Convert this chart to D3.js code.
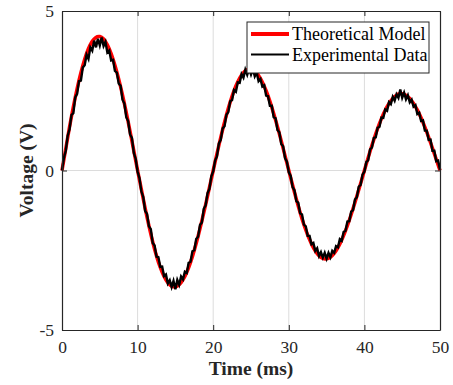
<!DOCTYPE html>
<html><head><meta charset="utf-8">
<script src="https://cdn.jsdelivr.net/npm/d3@7"></script>
<style>body{margin:0;background:#fff}svg{display:block}</style>
</head><body>
<script>
const xTicks = [0, 10, 20, 30, 40, 50];
const yTicks = [-5, 0, 5];
const seriesNames = ["Theoretical Model", "Experimental Data"];
// Theoretical model, one sample per ms (0..50 ms)
const modelTime = [0,1,2,3,4,5,6,7,8,9,10,11,12,13,14,15,16,17,18,19,20,21,22,23,24,25,26,27,28,29,30,31,32,33,34,35,36,37,38,39,40,41,42,43,44,45,46,47,48,49,50];
const modelVolt = [0,1.37,2.57,3.49,4.05,4.20,3.94,3.30,2.37,1.23,0,-1.19,-2.24,-3.04,-3.52,-3.65,-3.43,-2.88,-2.06,-1.07,0,1.04,1.95,2.65,3.07,3.18,2.98,2.50,1.79,0.93,0,-0.90,-1.70,-2.30,-2.67,-2.77,-2.60,-2.18,-1.56,-0.81,0,0.79,1.48,2.00,2.32,2.41,2.26,1.90,1.36,0.70,0];
// Experimental data, one sample per 0.25 ms
const expStep = 0.25;
const expVolt = [
0.00,0.39,0.62,1.09,1.29,1.74,1.80,2.29,2.40,2.80,2.82,3.23,3.30,3.63,3.50,3.86,3.76,4.07,3.86,4.13,3.92,4.17,3.90,4.03,3.70,3.76,3.45,3.47,3.12,3.07,2.73,2.66,2.22,2.10,1.67,1.55,1.13,1.02,0.55,0.36,
-0.04,-0.24,-0.66,-0.83,-1.27,-1.36,-1.75,-1.84,-2.27,-2.35,-2.70,-2.72,-3.02,-3.01,-3.31,-3.26,-3.54,-3.44,-3.65,-3.46,-3.72,-3.43,-3.58,-3.32,-3.41,-3.17,-3.21,-2.89,-2.86,-2.53,-2.50,-2.15,-2.08,-1.71,-1.63,-1.20,-1.09,-0.71,-0.58,-0.18,
-0.03,0.31,0.44,0.85,0.96,1.32,1.39,1.75,1.83,2.17,2.21,2.52,2.47,2.76,2.75,3.02,2.91,3.16,3.00,3.19,3.01,3.18,2.95,3.07,2.80,2.87,2.63,2.67,2.35,2.33,2.03,2.03,1.67,1.64,1.27,1.20,0.83,0.76,0.39,0.28,
-0.06,-0.17,-0.52,-0.62,-0.96,-1.01,-1.34,-1.38,-1.70,-1.75,-2.05,-2.05,-2.31,-2.27,-2.52,-2.44,-2.68,-2.56,-2.73,-2.58,-2.76,-2.58,-2.72,-2.52,-2.58,-2.37,-2.41,-2.15,-2.20,-1.93,-1.89,-1.60,-1.59,-1.29,-1.24,-0.91,-0.84,-0.51,-0.45,-0.13,
-0.04,0.26,0.32,0.66,0.72,1.02,1.04,1.34,1.37,1.66,1.65,1.91,1.87,2.14,2.08,2.31,2.19,2.39,2.28,2.54,2.28,2.44,2.23,2.36,2.14,2.22,2.00,2.05,1.77,1.81,1.55,1.57,1.25,1.25,0.96,0.97,0.62,0.62,0.29,0.31,
0.02];

const W = 453, H = 385;
const m = {left: 62, right: 13, top: 11, bottom: 55};
const svg = d3.select("body").append("svg").attr("width", W).attr("height", H);
const x = d3.scaleLinear().domain([0, 50]).range([m.left, W - m.right]);
const y = d3.scaleLinear().domain([-5, 5]).range([H - m.bottom, m.top]);
const font = "'Liberation Serif','Times New Roman',serif";

// grid
svg.append("g").selectAll("line").data(xTicks.slice(1, -1)).join("line")
  .attr("x1", d => x(d)).attr("x2", d => x(d)).attr("y1", y(5)).attr("y2", y(-5))
  .attr("stroke", "#dcdcdc").attr("stroke-width", 1);
svg.append("g").selectAll("line").data([0]).join("line")
  .attr("x1", x(0)).attr("x2", x(50)).attr("y1", d => y(d)).attr("y2", d => y(d))
  .attr("stroke", "#dcdcdc").attr("stroke-width", 1);

// data lines
const modelData = modelTime.map((t, i) => [t, modelVolt[i]]);
const expData = expVolt.map((v, i) => [i * expStep, v]);
svg.append("path").datum(modelData)
  .attr("d", d3.line().x(d => x(d[0])).y(d => y(d[1])).curve(d3.curveNatural))
  .attr("fill", "none").attr("stroke", "#ff0000").attr("stroke-width", 3.5);
svg.append("path").datum(expData)
  .attr("d", d3.line().x(d => x(d[0])).y(d => y(d[1])))
  .attr("fill", "none").attr("stroke", "#000").attr("stroke-width", 2.4)
  .attr("stroke-linejoin", "miter");

// axes (inward ticks, box)
const xb = svg.append("g").attr("transform", `translate(0,${y(-5)})`)
  .call(d3.axisBottom(x).tickValues(xTicks).tickSizeInner(-5).tickSizeOuter(0).tickPadding(11));
const xt = svg.append("g").attr("transform", `translate(0,${y(5)})`)
  .call(d3.axisTop(x).tickValues(xTicks).tickSizeInner(-5).tickSizeOuter(0).tickFormat(""));
const yl = svg.append("g").attr("transform", `translate(${x(0)},0)`)
  .call(d3.axisLeft(y).tickValues(yTicks).tickSizeInner(-5).tickSizeOuter(0).tickPadding(8).tickFormat(d3.format("d")));
const yr = svg.append("g").attr("transform", `translate(${x(50)},0)`)
  .call(d3.axisRight(y).tickValues(yTicks).tickSizeInner(-5).tickSizeOuter(0).tickFormat(""));
[xb, xt, yl, yr].forEach(g => {
  g.select(".domain").attr("stroke", "#262626").attr("stroke-width", 1.2);
  g.selectAll(".tick line").attr("stroke", "#262626");
  g.selectAll("text").attr("font-family", font).attr("font-size", 17.5).attr("fill", "#262626");
});
yl.selectAll("text").text(d => d < 0 ? "-" + Math.abs(d) : d);

// titles
svg.append("text").attr("x", x(25)).attr("y", 375).attr("text-anchor", "middle")
  .attr("font-family", font).attr("font-weight", "bold").attr("font-size", 19.5).attr("fill", "#262626")
  .text("Time (ms)");
svg.append("text").attr("transform", `translate(33,${y(0)}) rotate(-90)`).attr("text-anchor", "middle")
  .attr("font-family", font).attr("font-weight", "bold").attr("font-size", 19.5).attr("fill", "#262626")
  .text("Voltage (V)");

// legend
const lg = svg.append("g");
lg.append("rect").attr("x", 247).attr("y", 22).attr("width", 182).attr("height", 51)
  .attr("fill", "#fff").attr("stroke", "#262626").attr("stroke-width", 1);
const colors = ["#ff0000", "#000"], widths = [4, 2];
seriesNames.forEach((n, i) => {
  const yy = 34 + i * 20.5;
  lg.append("line").attr("x1", 251).attr("x2", 289).attr("y1", yy).attr("y2", yy)
    .attr("stroke", colors[i]).attr("stroke-width", widths[i]);
  lg.append("text").attr("x", 292).attr("y", yy + 6).attr("font-family", font)
    .attr("font-size", 18).attr("fill", "#000").text(n);
});
</script>
</body></html>
